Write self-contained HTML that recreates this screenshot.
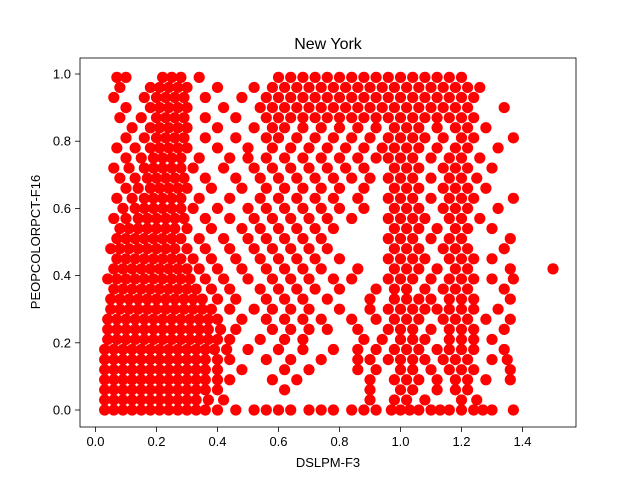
<!DOCTYPE html>
<html><head><meta charset="utf-8"><style>
body{margin:0;background:#fff}
svg{font-family:"Liberation Sans","DejaVu Sans",sans-serif}
</style></head><body>
<svg id="chart" width="640" height="480">
<rect width="640" height="480" fill="#fff"/>
<text x="328" y="49" font-size="16" text-anchor="middle">New York</text>
<g id="marks"></g>
<rect x="80" y="58" width="496" height="369" fill="none" stroke="#000" stroke-width="0.8"/>
<g id="xticks"></g>
<g id="yticks"></g>
<text x="328" y="467" font-size="13" text-anchor="middle">DSLPM-F3</text>
<text transform="translate(40,242) rotate(-90)" font-size="13" text-anchor="middle">PEOPCOLORPCT-F16</text>
</svg>
<script>
const xTickValues=[0.0,0.2,0.4,0.6,0.8,1.0,1.2,1.4];
const yTickValues=[0.0,0.2,0.4,0.6,0.8,1.0];
const rowYValues=[0.00,0.03,0.06,0.09,0.12,0.15,0.18,0.21,0.24,0.27,0.30,0.33,0.36,0.39,0.42,0.45,0.48,0.51,0.54,0.57,0.60,0.63,0.66,0.69,0.72,0.75,0.78,0.81,0.84,0.87,0.90,0.93,0.96,0.99];
const rowXValues=[
[0.03,0.06,0.09,0.12,0.15,0.18,0.21,0.24,0.27,0.30,0.33,0.36,0.40,0.46,0.52,0.56,0.60,0.64,0.70,0.74,0.78,0.84,0.88,0.92,0.97,1.00,1.03,1.06,1.10,1.13,1.16,1.20,1.24,1.27,1.30,1.37],
[0.03,0.06,0.09,0.12,0.15,0.18,0.21,0.24,0.27,0.30,0.33,0.37,0.42,0.90,0.98,1.02,1.08,1.20,1.25],
[0.03,0.06,0.09,0.12,0.15,0.18,0.21,0.24,0.27,0.30,0.33,0.36,0.40,0.62,0.90,1.00,1.04,1.12,1.18,1.22],
[0.03,0.06,0.09,0.12,0.15,0.18,0.21,0.24,0.27,0.30,0.33,0.36,0.40,0.44,0.58,0.66,0.90,0.98,1.02,1.06,1.12,1.18,1.22,1.28,1.36],
[0.03,0.06,0.09,0.12,0.15,0.18,0.21,0.24,0.27,0.30,0.33,0.36,0.40,0.48,0.62,0.70,0.86,0.92,1.00,1.04,1.10,1.16,1.20,1.24,1.36],
[0.03,0.06,0.09,0.12,0.15,0.18,0.21,0.24,0.27,0.30,0.33,0.36,0.40,0.44,0.56,0.64,0.74,0.86,0.90,0.96,1.00,1.04,1.08,1.14,1.18,1.22,1.30,1.35],
[0.03,0.06,0.09,0.12,0.15,0.18,0.21,0.24,0.27,0.30,0.33,0.36,0.39,0.43,0.50,0.60,0.68,0.78,0.86,0.92,0.98,1.02,1.06,1.12,1.16,1.20,1.24,1.34],
[0.04,0.07,0.10,0.13,0.16,0.19,0.22,0.25,0.28,0.31,0.34,0.37,0.40,0.44,0.54,0.62,0.68,0.88,0.94,1.00,1.04,1.08,1.16,1.20,1.24,1.30],
[0.04,0.07,0.10,0.13,0.16,0.19,0.22,0.25,0.28,0.31,0.34,0.37,0.41,0.46,0.58,0.64,0.70,0.76,0.86,0.96,1.00,1.04,1.10,1.16,1.20,1.24,1.34],
[0.04,0.07,0.10,0.13,0.16,0.19,0.22,0.25,0.28,0.31,0.34,0.37,0.40,0.48,0.56,0.62,0.68,0.74,0.84,0.92,0.98,1.02,1.06,1.14,1.18,1.22,1.28,1.36],
[0.05,0.08,0.11,0.14,0.17,0.20,0.23,0.26,0.29,0.32,0.35,0.38,0.44,0.52,0.58,0.64,0.70,0.80,0.90,0.96,1.00,1.04,1.08,1.12,1.16,1.20,1.24,1.32],
[0.05,0.08,0.11,0.14,0.17,0.20,0.23,0.26,0.29,0.32,0.35,0.40,0.46,0.56,0.62,0.68,0.76,0.90,0.98,1.02,1.06,1.10,1.16,1.20,1.24,1.36],
[0.06,0.09,0.12,0.15,0.18,0.21,0.24,0.27,0.30,0.33,0.38,0.44,0.54,0.60,0.66,0.72,0.80,0.92,0.98,1.02,1.08,1.14,1.18,1.22,1.34],
[0.04,0.07,0.10,0.13,0.16,0.19,0.22,0.25,0.28,0.31,0.36,0.42,0.50,0.58,0.64,0.70,0.78,0.84,0.96,1.00,1.04,1.10,1.16,1.20,1.24,1.30,1.37],
[0.06,0.09,0.12,0.15,0.18,0.21,0.24,0.27,0.30,0.34,0.40,0.48,0.56,0.62,0.68,0.74,0.86,0.98,1.02,1.06,1.12,1.18,1.22,1.36,1.50],
[0.07,0.10,0.13,0.16,0.19,0.22,0.25,0.28,0.32,0.38,0.46,0.54,0.60,0.66,0.72,0.80,0.96,1.00,1.04,1.08,1.16,1.20,1.24,1.30],
[0.05,0.08,0.11,0.14,0.17,0.20,0.23,0.26,0.30,0.36,0.44,0.52,0.58,0.64,0.70,0.76,0.98,1.02,1.06,1.14,1.18,1.22,1.34],
[0.07,0.10,0.13,0.16,0.19,0.22,0.25,0.28,0.34,0.42,0.50,0.56,0.62,0.68,0.74,0.96,1.00,1.04,1.10,1.16,1.20,1.36],
[0.08,0.11,0.14,0.17,0.20,0.23,0.26,0.30,0.38,0.48,0.54,0.60,0.66,0.72,0.78,0.98,1.02,1.06,1.12,1.18,1.22,1.30],
[0.06,0.10,0.14,0.17,0.20,0.23,0.26,0.29,0.36,0.44,0.52,0.58,0.64,0.70,0.76,0.84,0.96,1.00,1.04,1.08,1.16,1.20,1.26],
[0.09,0.13,0.16,0.19,0.22,0.25,0.28,0.32,0.40,0.50,0.56,0.62,0.68,0.74,0.80,0.88,0.98,1.02,1.06,1.14,1.18,1.22,1.32],
[0.07,0.12,0.16,0.19,0.22,0.25,0.28,0.34,0.44,0.54,0.60,0.66,0.72,0.78,0.86,0.96,1.00,1.04,1.10,1.16,1.20,1.24,1.37],
[0.10,0.14,0.18,0.21,0.24,0.27,0.30,0.38,0.48,0.56,0.62,0.68,0.74,0.80,0.88,0.98,1.02,1.06,1.14,1.18,1.22,1.28],
[0.08,0.13,0.17,0.20,0.23,0.26,0.29,0.36,0.46,0.54,0.60,0.66,0.72,0.78,0.84,0.90,0.96,1.00,1.04,1.10,1.16,1.20,1.25],
[0.06,0.11,0.16,0.19,0.22,0.25,0.28,0.32,0.42,0.52,0.58,0.64,0.70,0.76,0.82,0.88,0.98,1.02,1.06,1.14,1.18,1.22,1.30],
[0.10,0.15,0.19,0.22,0.25,0.28,0.34,0.44,0.50,0.56,0.62,0.68,0.74,0.80,0.86,0.92,0.96,1.00,1.04,1.10,1.16,1.20,1.26],
[0.07,0.13,0.18,0.21,0.24,0.27,0.30,0.40,0.50,0.58,0.64,0.70,0.76,0.82,0.88,0.94,0.98,1.02,1.06,1.12,1.18,1.22,1.32],
[0.10,0.16,0.20,0.23,0.26,0.29,0.36,0.46,0.56,0.60,0.66,0.72,0.78,0.84,0.90,0.96,1.00,1.04,1.08,1.14,1.20,1.24,1.37],
[0.12,0.18,0.21,0.24,0.27,0.30,0.40,0.52,0.58,0.62,0.68,0.74,0.80,0.86,0.92,0.98,1.02,1.06,1.12,1.18,1.22,1.28],
[0.08,0.15,0.20,0.23,0.26,0.29,0.36,0.46,0.56,0.60,0.64,0.68,0.72,0.76,0.80,0.84,0.88,0.92,0.96,1.00,1.04,1.08,1.12,1.16,1.20,1.24],
[0.10,0.18,0.21,0.24,0.27,0.30,0.42,0.54,0.58,0.62,0.66,0.70,0.74,0.78,0.82,0.86,0.90,0.94,0.98,1.02,1.06,1.10,1.14,1.18,1.22,1.34],
[0.06,0.16,0.20,0.23,0.26,0.29,0.36,0.48,0.56,0.60,0.64,0.68,0.72,0.76,0.80,0.84,0.88,0.92,0.96,1.00,1.04,1.08,1.12,1.16,1.20,1.24],
[0.08,0.18,0.21,0.24,0.27,0.30,0.40,0.52,0.58,0.62,0.66,0.70,0.74,0.78,0.82,0.86,0.90,0.94,0.98,1.02,1.06,1.10,1.14,1.18,1.22,1.26],
[0.07,0.10,0.22,0.25,0.28,0.34,0.60,0.64,0.68,0.72,0.76,0.80,0.84,0.88,0.92,0.96,1.00,1.04,1.08,1.12,1.16,1.20]
];
const NS="http://www.w3.org/2000/svg";
function xScale(v){return 95.5+v*305;}
function yScale(v){return 410-v*336;}
const marks=document.getElementById('marks');
rowYValues.forEach(function(yv,i){
  rowXValues[i].forEach(function(xv){
    const c=document.createElementNS(NS,'circle');
    c.setAttribute('cx',xScale(xv));
    c.setAttribute('cy',yScale(yv));
    c.setAttribute('r',5.6);
    c.setAttribute('fill','#ff0000');
    
    
    marks.appendChild(c);
  });
});
const xt=document.getElementById('xticks');
xTickValues.forEach(function(v){
  const x=xScale(v);
  const l=document.createElementNS(NS,'line');
  l.setAttribute('x1',x);l.setAttribute('x2',x);l.setAttribute('y1',427);l.setAttribute('y2',432);
  l.setAttribute('stroke','#000');l.setAttribute('stroke-width','0.8');
  
  
  xt.appendChild(l);
  const t=document.createElementNS(NS,'text');
  t.setAttribute('x',x);t.setAttribute('y',446);t.setAttribute('font-size','13');t.setAttribute('text-anchor','middle');
  t.textContent=v.toFixed(1);
  
  
  xt.appendChild(t);
});
const yt=document.getElementById('yticks');
yTickValues.forEach(function(v){
  const y=yScale(v);
  const l=document.createElementNS(NS,'line');
  l.setAttribute('x1',75);l.setAttribute('x2',80);l.setAttribute('y1',y);l.setAttribute('y2',y);
  l.setAttribute('stroke','#000');l.setAttribute('stroke-width','0.8');
  
  
  yt.appendChild(l);
  const t=document.createElementNS(NS,'text');
  t.setAttribute('x',71);t.setAttribute('y',y+4.5);t.setAttribute('font-size','13');t.setAttribute('text-anchor','end');
  t.textContent=v.toFixed(1);
  
  
  yt.appendChild(t);
});
</script>
</body></html>
